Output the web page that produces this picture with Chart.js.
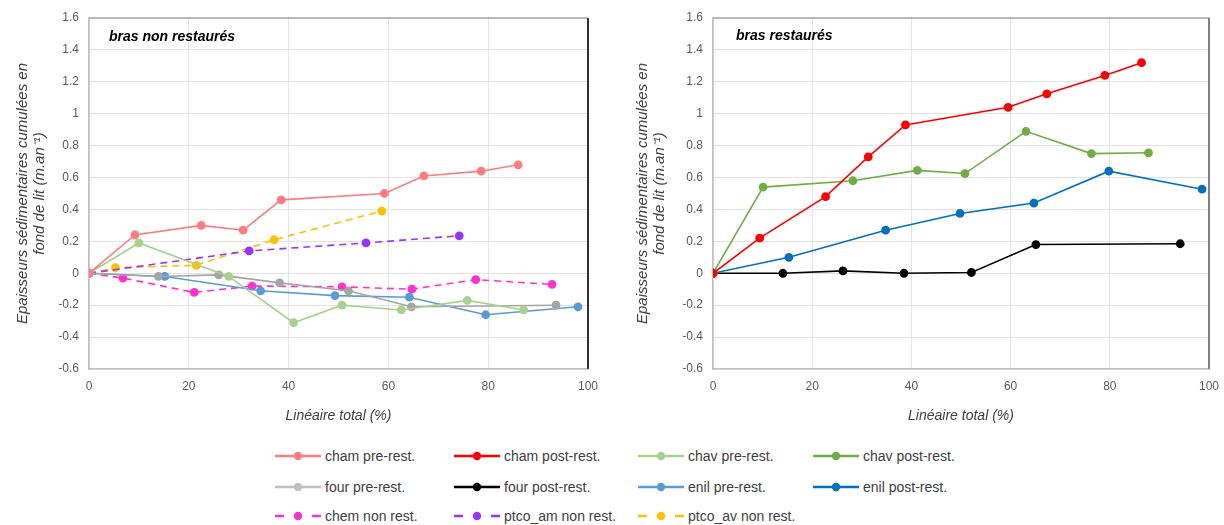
<!DOCTYPE html>
<html><head><meta charset="utf-8">
<script src="https://cdn.jsdelivr.net/npm/chart.js@4.4.1/dist/chart.umd.min.js"></script>
<style>
body{margin:0;background:#fff;width:1224px;height:525px;position:relative;overflow:hidden;font-family:"Liberation Sans",Arial,sans-serif;}
canvas{position:absolute;top:0;}
#ca{left:0;}
#cb{left:612px;}
.lab{position:absolute;font-weight:bold;font-style:italic;font-size:14px;color:#000;line-height:16px;}
.li{position:absolute;height:16px;display:flex;align-items:center;font-size:14px;color:#404040;white-space:nowrap;}
.li svg{margin-right:4px;}
</style></head>
<body>
<canvas id="ca" width="600" height="425"></canvas>
<canvas id="cb" width="612" height="425"></canvas>
<div class="lab" id="tl" style="left:109px;top:28px;"></div>
<div class="lab" id="tr" style="left:736px;top:27px;"></div>
<div id="legend"></div>
<script>
// ---- data (x = Linéaire total %, y = épaisseur cumulée m/an) ----
const chamPreX  = [0, 9.2, 22.5, 30.9, 38.5, 59.2, 67.1, 78.6, 86.0];
const chamPreY  = [0, 0.24, 0.30, 0.27, 0.46, 0.50, 0.61, 0.64, 0.68];
const chavPreX  = [0, 10.0, 28.0, 41.0, 50.7, 62.6, 75.8, 87.1];
const chavPreY  = [0, 0.19, -0.02, -0.31, -0.20, -0.23, -0.17, -0.23];
const fourPreX  = [0, 13.9, 26.0, 38.2, 52.0, 64.6, 93.6];
const fourPreY  = [0, -0.02, -0.01, -0.06, -0.11, -0.21, -0.20];
const enilPreX  = [0, 15.2, 34.4, 49.3, 64.2, 79.5, 98.0];
const enilPreY  = [0, -0.02, -0.11, -0.14, -0.15, -0.26, -0.21];
const chemX     = [0, 6.8, 21.1, 32.7, 50.7, 64.7, 77.5, 92.8];
const chemY     = [0, -0.03, -0.12, -0.08, -0.085, -0.10, -0.04, -0.07];
const ptcoAmX   = [0, 32.1, 55.5, 74.2];
const ptcoAmY   = [0, 0.14, 0.19, 0.235];
const ptcoAvX   = [0, 5.3, 21.5, 37.1, 58.7];
const ptcoAvY   = [0, 0.035, 0.05, 0.21, 0.39];

const chamPostX = [0, 9.4, 22.7, 31.3, 38.8, 59.5, 67.3, 79.0, 86.4];
const chamPostY = [0, 0.22, 0.48, 0.73, 0.93, 1.04, 1.125, 1.24, 1.32];
const chavPostX = [0, 10.1, 28.2, 41.2, 50.8, 63.1, 76.3, 87.8];
const chavPostY = [0, 0.54, 0.58, 0.645, 0.625, 0.89, 0.75, 0.755];
const fourPostX = [0, 14.1, 26.2, 38.5, 52.1, 65.1, 94.2];
const fourPostY = [0, 0, 0.015, 0, 0.005, 0.18, 0.185];
const enilPostX = [0, 15.3, 34.8, 49.8, 64.7, 79.8, 98.6];
const enilPostY = [0, 0.10, 0.27, 0.375, 0.44, 0.64, 0.527];

const titleLeft = 'bras non restaurés';
const titleRight = 'bras restaurés';
const xTitle = 'Linéaire total (%)';
const yTitle = ['Epaisseurs sédimentaires cumulées en', 'fond de lit (m.an⁻¹)'];

const legendLabels = ['cham pre-rest.', 'cham post-rest.', 'chav pre-rest.', 'chav post-rest.',
  'four pre-rest.', 'four post-rest.', 'enil pre-rest.', 'enil post-rest.',
  'chem non rest.', 'ptco_am non rest.', 'ptco_av non rest.'];
const legendColors = ['#ff7c80', '#ff0000', '#a9d18e', '#70ad47',
  '#bfbfbf', '#000000', '#5b9bd5', '#0070c0',
  '#ff33cc', '#9933ff', '#ffc000'];
const legendDashed = [false, false, false, false, false, false, false, false, true, true, true];

document.getElementById('tl').textContent = titleLeft;
document.getElementById('tr').textContent = titleRight;

function pts(xs, ys){ return xs.map((x,i)=>({x:x, y:ys[i]})); }
function ds(label, xs, ys, color, dashed){
  return {label, data: pts(xs, ys), showLine:true, borderColor: color, backgroundColor: color,
    pointBackgroundColor: color, pointBorderColor: color, borderWidth: 1.6, pointRadius: 3.6, pointHoverRadius:3.6,
    borderDash: dashed ? [7,5] : [], tension: 0};
}

const frame = {
  id:'frame',
  afterDraw(chart, args, opts){
    const {ctx, chartArea:a} = chart;
    ctx.save();
    ctx.strokeStyle = '#a6a6a6'; ctx.lineWidth = 1.5;
    ctx.beginPath(); ctx.moveTo(a.left, a.top); ctx.lineTo(a.right, a.top); ctx.stroke();
    ctx.strokeStyle = opts.right; ctx.lineWidth = 2;
    ctx.beginPath(); ctx.moveTo(a.right, a.top); ctx.lineTo(a.right, a.bottom); ctx.stroke();
    ctx.restore();
  }
};

function makeChart(id, datasets, axisW, padRight, titlePad, rightColor){
  return new Chart(document.getElementById(id), {
    type:'scatter',
    data:{datasets},
    plugins:[frame],
    options:{
      responsive:false, animation:false,
      layout:{padding:{top:18, right:padRight, left:0, bottom:0}},
      plugins:{legend:{display:false}, tooltip:{enabled:false}, frame:{right:rightColor}},
      scales:{
        x:{type:'linear', min:0, max:100,
           ticks:{stepSize:20, padding:10, font:{size:12, family:'"Liberation Sans"'}, color:'#595959'},
           grid:{color:'#e3e3e3', drawTicks:false}, border:{color:'#bfbfbf', width:1.5},
           title:{display:true, text:xTitle, font:{size:14, style:'italic', family:'"Liberation Sans"'}, color:'#404040', padding:{top:5, bottom:0}},
           afterFit(s){ s.height = 56; s.paddingLeft = 0; s.paddingRight = 0; }},
        y:{type:'linear', min:-0.6, max:1.6,
           ticks:{stepSize:0.2, padding:10, font:{size:12, family:'"Liberation Sans"'}, color:'#595959',
                  callback:v => String(+v.toFixed(1))},
           grid:{color:'#e3e3e3', drawTicks:false}, border:{color:'#bfbfbf', width:1.5},
           title:{display:true, text:yTitle, font:{size:15, style:'italic', family:'"Liberation Sans"', lineHeight:1.1}, color:'#404040', padding:{top:titlePad, bottom:0}},
           afterFit(s){ s.width = axisW; s.paddingTop = 0; s.paddingBottom = 0; }}
      }
    }
  });
}

makeChart('ca', [
  ds('cham pre-rest.', chamPreX, chamPreY, '#ff7c80'),
  ds('chav pre-rest.', chavPreX, chavPreY, '#a9d18e'),
  ds('four pre-rest.', fourPreX, fourPreY, '#a5a5a5'),
  ds('enil pre-rest.', enilPreX, enilPreY, '#5b9bd5'),
  ds('chem non rest.', chemX, chemY, '#ff33cc', true),
  ds('ptco_am non rest.', ptcoAmX, ptcoAmY, '#9933ff', true),
  ds('ptco_av non rest.', ptcoAvX, ptcoAvY, '#ffc000', true)
], 89, 12, 15, '#333333');

makeChart('cb', [
  ds('cham post-rest.', chamPostX, chamPostY, '#ff0000'),
  ds('chav post-rest.', chavPostX, chavPostY, '#70ad47'),
  ds('enil post-rest.', enilPostX, enilPostY, '#0070c0'),
  ds('four post-rest.', fourPostX, fourPostY, '#000000')
], 101, 15, 23, '#808080');

// ---- legend (HTML) ----
const colX = [275, 454, 638, 813];
const rowY = [448, 479, 508];
const leg = document.getElementById('legend');
legendLabels.forEach((label, i) => {
  const color = legendColors[i], dashed = legendDashed[i];
  const d = document.createElement('div');
  d.className = 'li';
  d.style.left = colX[i % 4] + 'px';
  d.style.top = rowY[Math.floor(i / 4)] + 'px';
  const line = dashed
    ? `<line x1="0" y1="8" x2="9" y2="8" stroke="${color}" stroke-width="2.5"/><line x1="37" y1="8" x2="46" y2="8" stroke="${color}" stroke-width="2.5"/>`
    : `<line x1="0" y1="8" x2="46" y2="8" stroke="${color}" stroke-width="2.5"/>`;
  d.innerHTML = `<svg width="46" height="16">${line}<circle cx="23" cy="8" r="4.2" fill="${color}"/></svg>`;
  const sp = document.createElement('span');
  sp.textContent = label;
  d.appendChild(sp);
  leg.appendChild(d);
});
</script>
</body></html>
